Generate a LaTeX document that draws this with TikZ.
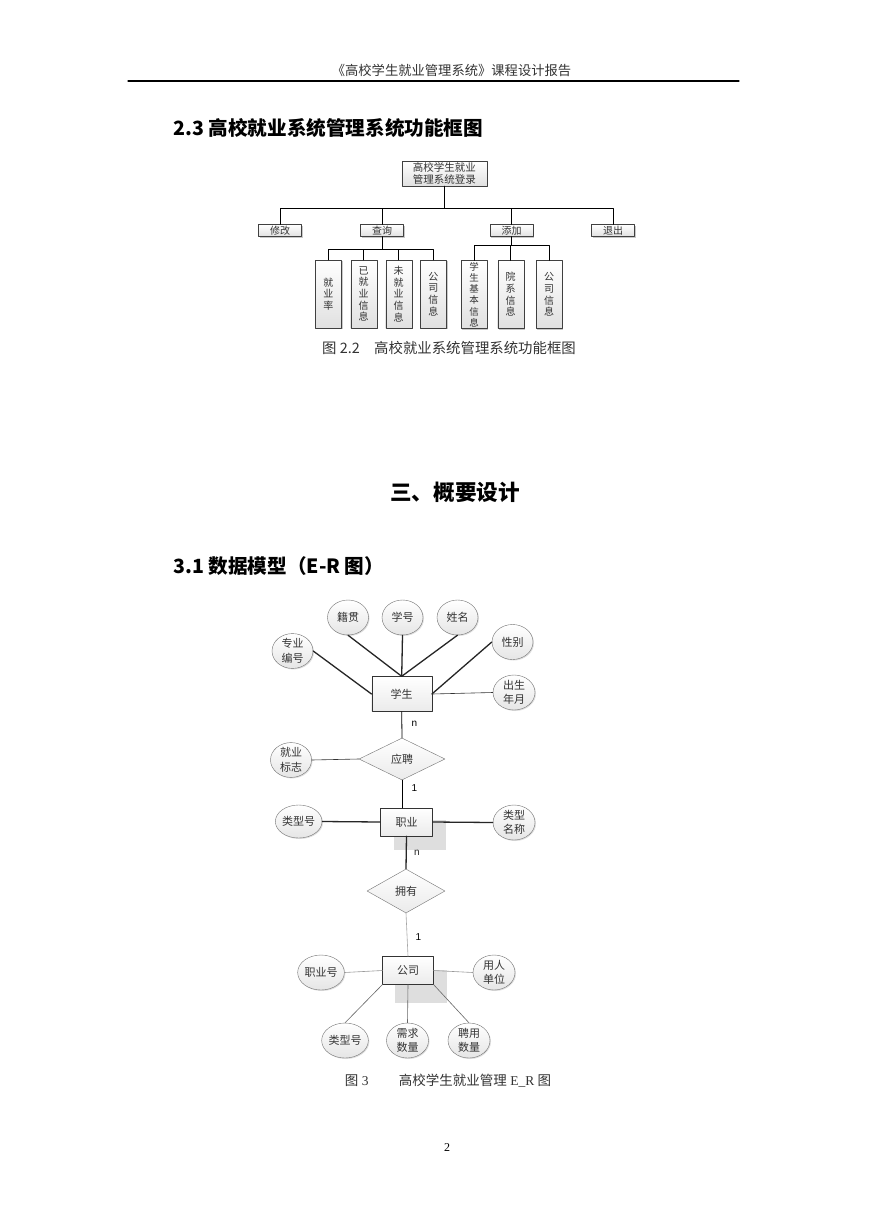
\documentclass[tikz,border=0pt]{standalone}
\usepackage{fontspec}
\setmainfont{Liberation Serif}
\newfontfamily\cjk{Noto Sans CJK SC}
\newfontfamily\latsans{Liberation Sans}
\usetikzlibrary{shapes.geometric,shadows}
\begin{document}
\begin{tikzpicture}[x=1pt, y=-1pt, line join=round, line cap=round,
  fbox/.style={draw=black!75, top color=white, bottom color=black!12, inner sep=0pt, align=center,
    drop shadow={shadow xshift=1.2pt, shadow yshift=-1.2pt, fill=black!35, opacity=.6},
    font=\cjk\fontsize{10}{11.7}\selectfont, text=black!80},
  fsub/.style={fbox, minimum width=43pt, minimum height=12pt},
  fleaf/.style={fbox, minimum width=26pt, minimum height=68pt},
  attr/.style={ellipse, draw=black!55, top color=white, bottom color=black!10, inner sep=0pt,
    minimum width=42pt, minimum height=35pt, align=center,
    drop shadow={shadow xshift=1pt, shadow yshift=-1pt, fill=black!25, opacity=.5},
    font=\cjk\fontsize{11}{14.5}\selectfont, text=black!80},
  ent/.style={draw=black!80, top color=white, bottom color=black!8, inner sep=0pt,
    font=\cjk\fontsize{11}{14}\selectfont, text=black!80},
  rel/.style={diamond, aspect=2, draw=black!55, top color=white, bottom color=black!8, inner sep=0pt,
    font=\cjk\fontsize{11}{14}\selectfont, text=black!80},
  card/.style={font=\latsans\fontsize{10}{10}\selectfont},
  thk/.style={line width=1.3pt, black!85},
  thn/.style={line width=.6pt, black!60}]
\useasboundingbox[fill=white] (0,0) rectangle (869,1228);
% page head
\node[font=\cjk\fontsize{13.3}{14}\selectfont, text=black!80] (head) at (451.5,70) {《高校学生就业管理系统》课程设计报告};
\draw[line width=1.2pt] (128,81) -- (739,81);
\node[anchor=west, font=\cjk\bfseries\fontsize{19.6}{20}\selectfont] (sec23) at (170,128) {2.3 高校就业系统管理系统功能框图};
% function diagram
\node[fbox, minimum width=85pt, minimum height=25pt, font=\cjk\fontsize{10.5}{12}\selectfont] (root) at (444.3,173.5) {高校学生就业\\管理系统登录};
\node[fsub] (xg) at (280,230.5) {修改};
\node[fsub] (cx) at (382,230.5) {查询};
\node[fsub] (tj) at (511.5,230.5) {添加};
\node[fsub] (tc) at (613,230.5) {退出};
\node[fleaf] (jyl) at (328.3,294) {就\\业\\率};
\node[fleaf] (yjy) at (363.7,294) {已\\就\\业\\信\\息};
\node[fleaf] (wjy) at (398.7,294) {未\\就\\业\\信\\息};
\node[fleaf] (gsxx1) at (433.3,294) {公\\司\\信\\息};
\node[fleaf, font=\cjk\fontsize{9.5}{11.2}\selectfont] (xsxx) at (474,294.5) {学\\生\\基\\本\\信\\息};
\node[fleaf] (yxxx) at (510.7,294.5) {院\\系\\信\\息};
\node[fleaf] (gsxx2) at (549,294.5) {公\\司\\信\\息};
\coordinate (bus0) at (444.3,208.3);
\coordinate (bus1) at (382,249.3);
\coordinate (bus2) at (511.5,245);
\draw[line width=.9pt] (root.south) -- (bus0);
\foreach \n in {xg,cx,tj,tc} \draw[line width=.9pt] (bus0) -| (\n.north);
\draw[line width=.9pt] (cx.south) -- (bus1);
\foreach \n in {jyl,yjy,wjy,gsxx1} \draw[line width=.9pt] (bus1) -| (\n.north);
\draw[line width=.9pt] (tj.south) -- (bus2);
\foreach \n in {xsxx,yxxx,gsxx2} \draw[line width=.9pt] (bus2) -| (\n.north);
\node[font=\cjk\fontsize{14.4}{14}\selectfont, text=black!80] (cap22) at (449,348) {图 2.2\quad 高校就业系统管理系统功能框图};
% chapter and section
\node[font=\cjk\bfseries\fontsize{21.6}{22}\selectfont] (ch3) at (455,492) {三、概要设计};
\node[anchor=west, font=\cjk\bfseries\fontsize{19.6}{20}\selectfont] (sec31) at (170,566) {3.1 数据模型（E-R 图）};
% E-R diagram
\fill[black!13] (394.3,820) rectangle (445.7,850);
\fill[black!13] (395,970) rectangle (446.7,1003);
\node[ent, minimum width=60pt, minimum height=35pt] (stu) at (401.7,694) {学生};
\node[attr, minimum width=41pt] (jg) at (348,617.5) {籍贯};
\node[attr, minimum width=41pt] (xh) at (402.5,617.5) {学号};
\node[attr, minimum width=41pt] (xm) at (457.5,617.5) {姓名};
\node[attr, minimum width=41pt, minimum height=33pt] (zybh) at (292.5,651) {专业\\编号};
\node[attr, minimum width=41pt] (xb) at (512.5,642) {性别};
\node[attr] (csny) at (514,692.5) {出生\\年月};
\node[rel, minimum width=86pt, minimum height=42pt] (yp) at (402,759) {应聘};
\node[attr, minimum width=41pt, minimum height=34pt] (jybz) at (291,760) {就业\\标志};
\node[ent, minimum width=52pt, minimum height=28pt] (zy) at (406.5,822) {职业};
\node[attr, minimum width=43pt, minimum height=33pt] (lxh) at (298.7,821.5) {类型号};
\node[attr] (lxmc) at (514,822.5) {类型\\名称};
\node[rel, minimum width=78pt, minimum height=44pt] (yy) at (406,891) {拥有};
\node[ent, minimum width=51pt, minimum height=28pt] (gs) at (408,970.5) {公司};
\node[attr] (zyh) at (321,972.5) {职业号};
\node[attr] (yrdw) at (494,972.5) {用人\\单位};
\node[attr] (gslxh) at (345,1040.5) {类型号};
\node[attr] (xqsl) at (407.5,1040.5) {需求\\数量};
\node[attr] (pysl) at (469,1040.5) {聘用\\数量};
\foreach \a in {jg,xh,xm} \draw[thk] (\a.south) -- (stu.north);
\draw[thk] (zybh.east) -- (stu.west);
\draw[thk] (xb.west) -- (stu.east);
\draw[thn, black!80] (csny.west) -- (stu.east);
\draw[line width=.8pt] (stu.south) -- (yp.north) node[card, pos=.45, right=6pt] (n1) {n};
\draw[thn, black!80] (jybz.east) -- (yp.west);
\draw[line width=.8pt] (yp.south) -- (yp.south |- zy.north) node[card, pos=.3, right=6pt] (c1) {1};
\draw[thk] (lxh.east) -- (zy.west);
\draw[thk] (lxmc.west) -- (zy.east);
\draw[thk] (zy.south) -- (yy.north) node[card, pos=.5, right=4pt] (n2) {n};
\draw[thn, black!35] (yy.south) -- (gs.north) node[card, pos=.55, right=5pt, text=black] (c2) {1};
\draw[thn, black!40] (zyh.east) -- (gs.west);
\draw[thn, black!40] (yrdw.west) -- (gs.east);
\draw[thn] (gslxh.north) -- (gs.south west);
\draw[thn] (xqsl.north) -- (gs.south);
\draw[thn] (pysl.north) -- (gs.south east);
\node[font=\fontsize{13.5}{14}\selectfont, text=black!80] (cap3) at (448,1081) {{\cjk 图} 3\qquad\ {\cjk 高校学生就业管理} E\_R {\cjk 图}};
\node[font=\fontsize{12}{12}\selectfont] (pgno) at (447,1148) {2};
\end{tikzpicture}
\end{document}
